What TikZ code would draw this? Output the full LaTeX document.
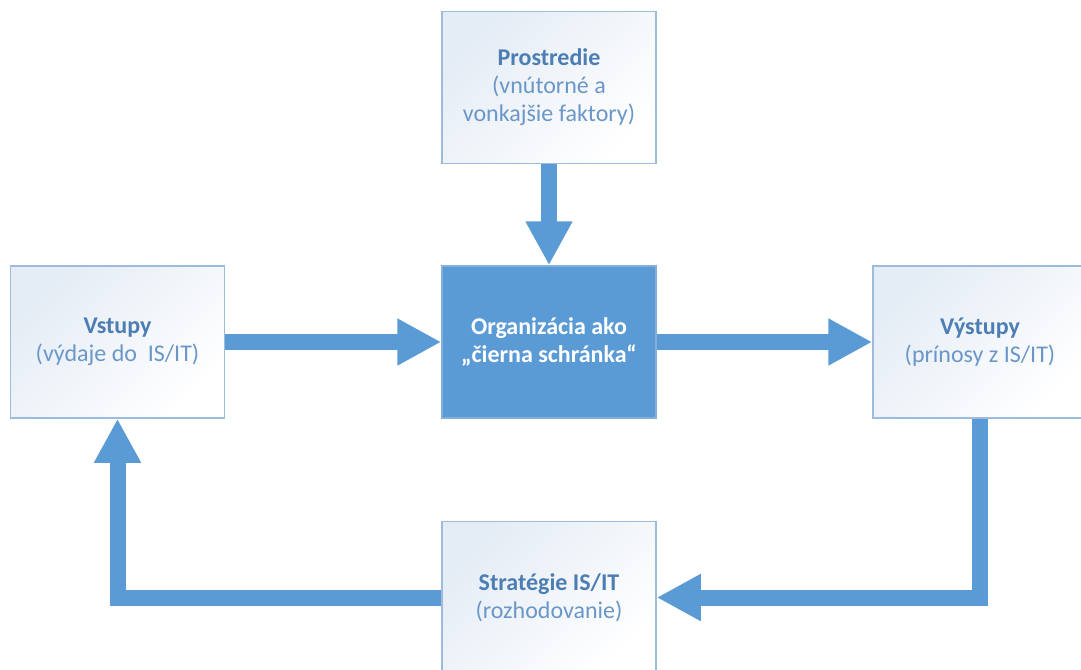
\documentclass[tikz,border=0pt]{standalone}
\usepackage{fontspec}
\setmainfont{Carlito}
\usepackage{tikz}
\usetikzlibrary{arrows.meta}
\usepackage{xcolor}
\definecolor{boxblue}{HTML}{5B9BD5}
\definecolor{edgeblue}{HTML}{9DBCDD}
\definecolor{titleblue}{HTML}{4C7DB3}
\definecolor{textblue}{HTML}{6A97C8}
\definecolor{shadeblue}{HTML}{E4ECF5}

\begin{document}
\begin{tikzpicture}[x=1pt,y=-1pt,
        frame/.style={rectangle, line width=1.5pt,
            minimum width=214pt, minimum height=152pt, align=center},
        box/.style={frame, draw=edgeblue,
            top color=shadeblue, bottom color=white, shading angle=45,
            text=textblue, font=\fontsize{24}{28}\selectfont},
        darkbox/.style={frame, fill=boxblue, draw=edgeblue!60!boxblue,
            text=white, font=\fontsize{24}{28}\selectfont\bfseries},
        flow/.style={draw=boxblue, line width=16pt, line join=miter,
            -{Triangle[length=44pt,width=44pt]}}]
        \useasboundingbox (0,0) rectangle (1081,669);
        \clip (0,0) rectangle (1081,669);
        % boxes
        \node[box] (prostredie) at (549,87.5)
            {\textbf{\color{titleblue}Prostredie}\\(vnútorné a\\vonkajšie faktory)};
        \node[darkbox] (org) at (549,342) {Organizácia ako\\„čierna schránka“};
        \node[box] (vstupy) at (117.5,342)
            {\textbf{\color{titleblue}Vstupy}\\(výdaje do\ \ IS/IT)};
        \node[box] (vystupy) at (980,342)
            {\textbf{\color{titleblue}Výstupy}\\(prínosy z IS/IT)};
        \node[box] (strategia) at (549,597.5)
            {\textbf{\color{titleblue}Stratégie IS/IT}\\(rozhodovanie)};
        % arrows
        \draw[flow] (prostredie.south) -- (org.north);
        \draw[flow] (vstupy.east) -- (org.west);
        \draw[flow] (org.east) -- (vystupy.west);
        \draw[flow] (vystupy.south) |- (strategia.east);
        \draw[flow] (strategia.west) -| (vstupy.south);
    \end{tikzpicture}
\end{document}
